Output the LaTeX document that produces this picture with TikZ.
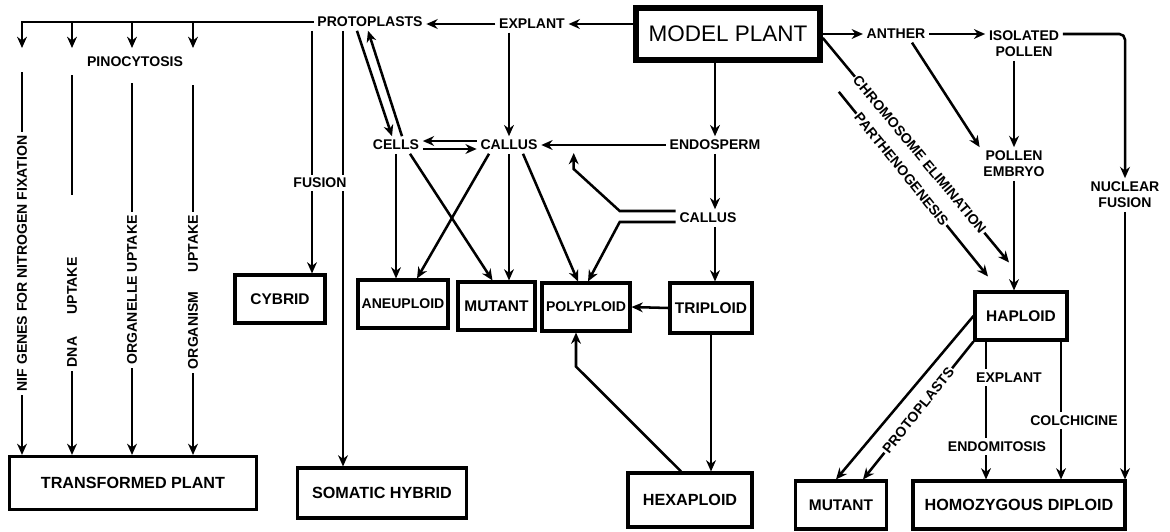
\documentclass[tikz,border=0pt]{standalone}
\usepackage{fontspec}
\setmainfont{Liberation Sans}
\usepackage{tikz}
\usetikzlibrary{arrows.meta, positioning, calc}

\begin{document}
\begin{tikzpicture}[
    font=\fontsize{10}{11.5}\selectfont\bfseries,
    pbox/.style={draw,line width=2.2pt,minimum width=#1,minimum height=1.2cm,
                 inner sep=2pt,align=center,font=\fontsize{11}{13}\selectfont\bfseries},
    bigbox/.style={pbox=#1,font=\fontsize{11.5}{13}\selectfont\bfseries},
    txt/.style={inner sep=2.5pt,align=center},
    lbl/.style={fill=white,inner sep=2.5pt,align=center},
    slbl/.style={fill=white,inner sep=1pt,sloped},
    arr/.style={-{Stealth[length=8pt,width=7pt]},line width=1.8pt},
    ln/.style={line width=1.8pt}
  ]
  \useasboundingbox (0,0) rectangle (29.25,-13.275);

  % top row
  \node[pbox=4.6cm,minimum height=1.3cm,line width=4pt,
        font=\fontsize{16}{18}\selectfont] (model) at (18.2,-0.85) {MODEL PLANT};
  \node[txt] (explant)  at (13.3,-0.6)  {EXPLANT};
  \node[txt] (proto)    at (9.25,-0.55) {PROTOPLASTS};
  \node[txt] (anther)   at (22.4,-0.85) {ANTHER};
  \node[txt] (isolated) at (25.6,-1.1)  {ISOLATED\\POLLEN};
  \draw[arr] (model.west |- explant) -- (explant.east);
  \draw[arr] (explant.west) -- (explant.west -| proto.east);
  \draw[arr] (model.east) -- (anther.west);
  \draw[arr] (anther.east) -- (anther.east -| isolated.west);

  % transformation columns
  \node[txt] (pino) at (3.375,-1.55) {PINOCYTOSIS};
  \node[bigbox=6.175cm,minimum height=1.325cm] (transf) at (3.325,-12.075) {TRANSFORMED PLANT};
  \coordinate (c1) at (0.55,-0.55);
  \coordinate (c2) at (1.8,-0.55);
  \coordinate (c3) at (3.3,-0.55);
  \coordinate (c4) at (4.825,-0.55);
  \coordinate (d1) at (0.55,-1.2);
  \coordinate (d2) at (1.8,-1.2);
  \coordinate (d3) at (3.3,-1.2);
  \coordinate (d4) at (4.825,-1.2);
  \coordinate (e1) at (0.55,-1.8);
  \coordinate (e2) at (1.8,-1.875);
  \coordinate (e3) at (3.3,-2.075);
  \coordinate (e4) at (4.825,-2.125);
  \draw[arr] (proto.west) -- (c1) -- (d1);
  \draw[arr] (c2) -- (d2);
  \draw[arr] (c3) -- (d3);
  \draw[arr] (c4) -- (d4);
  \draw[arr] (e1) -- node[lbl,rotate=90,pos=0.5] {NIF GENES FOR NITROGEN FIXATION} (e1 |- transf.north);
  \draw[arr] (e2) -- node[lbl,rotate=90,pos=0.547] {DNA\hspace{1.6em}UPTAKE\hspace{4.2em}} (e2 |- transf.north);
  \draw[arr] (e3) -- node[lbl,rotate=90,pos=0.556] {ORGANELLE UPTAKE} (e3 |- transf.north);
  \draw[arr] (e4) -- node[lbl,rotate=90,pos=0.56] {ORGANISM\hspace{1.4em}UPTAKE} (e4 |- transf.north);

  % fusion
  \node[pbox=2.25cm] (cybrid) at (7.0,-7.475) {CYBRID};
  \node[bigbox=4.225cm,minimum height=1.25cm] (somatic) at (9.55,-12.325) {SOMATIC HYBRID};
  \draw[arr] ([xshift=-1.45cm]proto.south) -- ([xshift=-1.45cm]proto.south |- cybrid.north);
  \draw[arr] ([xshift=-0.675cm]proto.south) -- ([xshift=-0.675cm]proto.south |- somatic.north);
  \node[lbl] (fusion) at (8.0,-4.575) {FUSION};

  % cells and callus
  \node[txt] (cells)   at (9.9,-3.625)   {CELLS};
  \node[txt] (callus)  at (12.725,-3.625) {CALLUS};
  \node[txt] (endo)    at (17.875,-3.625) {ENDOSPERM};
  \node[txt] (callusb) at (17.7,-5.45)    {CALLUS};
  \draw[arr] ([xshift=-0.325cm]proto.south) -- ([xshift=-0.1cm]cells.north);
  \draw[arr] ([xshift=0.15cm]cells.north) -- ([xshift=-0.05cm]proto.south);
  \draw[arr] ([yshift=0.1cm]callus.west) -- ([yshift=0.1cm]cells.east);
  \draw[arr] ([yshift=-0.1cm]cells.east) -- ([yshift=-0.1cm]callus.west);
  \draw[arr] (callus.north |- explant.south) -- (callus.north);
  \draw[arr] (endo.north |- model.south) -- (endo.north);
  \draw[arr] (endo.west) -- (callus.east);
  \draw[arr] (endo.south) -- (endo.south |- callusb.north);

  % ploidy boxes
  \node[pbox=2.25cm,font=\fontsize{10}{12}\selectfont\bfseries] (aneu) at (10.075,-7.6) {ANEUPLOID};
  \node[pbox=1.925cm] (mutant) at (12.4125,-7.65) {MUTANT};
  \node[pbox=2.2cm,font=\fontsize{10}{12}\selectfont\bfseries] (poly) at (14.65,-7.675) {POLYPLOID};
  \node[pbox=2.05cm,minimum height=1.25cm] (trip) at (17.775,-7.7) {TRIPLOID};
  \node[bigbox=3.1cm,minimum height=1.35cm] (hexa) at (17.25,-12.5) {HEXAPLOID};
  \draw[arr] (cells.south) -- (cells.south |- aneu.north);
  \draw[arr] ([xshift=0.35cm]cells.south) -- ([xshift=-0.1cm]mutant.north);
  \draw[arr] ([xshift=-0.5cm]callus.south) -- ([xshift=0.35cm]aneu.north);
  \draw[arr] (callus.south) -- (callus.south |- mutant.north);
  \draw[arr] ([xshift=0.35cm]callus.south) -- ([xshift=-0.2cm]poly.north);
  \draw[arr] ([yshift=0.175cm]callusb.west) -- ++(-1.4,0) -- ++(-1.15,1.05) -- ++(0,0.4);
  \draw[arr] ([yshift=-0.1cm]callusb.west) -- ++(-1.4,0) -- ([xshift=0.05cm]poly.north);
  \draw[arr] (endo.south |- callusb.south) -- (endo.south |- trip.north);
  \draw[arr] (trip.west) -- (poly.east);
  \draw[arr] (trip.south) -- (trip.south |- hexa.north);
  \draw[arr] ([xshift=-0.225cm]hexa.north) -- ([xshift=-0.25cm,yshift=-0.85cm]poly.south)
             -- ([xshift=-0.25cm]poly.south);

  % haploid branch
  \node[txt] (embryo)  at (25.35,-4.1)   {POLLEN\\EMBRYO};
  \node[txt] (nuclear) at (28.125,-4.875) {NUCLEAR\\FUSION};
  \node[pbox=2.3cm]   (haploid) at (25.525,-7.9)   {HAPLOID};
  \node[pbox=2.275cm] (mutantb) at (21.025,-12.625) {MUTANT};
  \node[bigbox=5.3cm] (homo)    at (25.475,-12.625) {HOMOZYGOUS DIPLOID};
  \draw[arr,rounded corners=4pt] (anther.east -| isolated.east) -| (nuclear.north);
  \draw[arr] ([xshift=0.4cm]anther.south) -- (embryo.north west);
  \draw[arr] (embryo.north |- isolated.south) -- (embryo.north);
  \draw[arr] (embryo.south) -- (embryo.south |- haploid.north);
  \draw[arr] (nuclear.south) -- (nuclear.south |- homo.north);
  \draw[arr] ([yshift=-0.1cm]model.east) -- node[slbl,pos=0.52] {CHROMOSOME ELIMINATION}
             ([xshift=-0.3cm,yshift=0.7cm]haploid.north);
  \coordinate (pstart) at ([xshift=0.4cm,yshift=-0.725cm]model.south east);
  \draw[arr] (pstart) -- node[slbl,pos=0.42] {PARTHENOGENESIS}
             ([xshift=-0.825cm,yshift=0.35cm]haploid.north);
  \draw[arr] (haploid.west) -- ([xshift=-0.125cm]mutantb.north);
  \draw[arr] (haploid.south west) -- node[slbl,pos=0.5] {PROTOPLASTS} ([xshift=0.55cm]mutantb.north);
  \draw[arr] ([xshift=-0.875cm]haploid.south) -- node[lbl,pos=0.26,xshift=0.575cm] {EXPLANT}
             node[lbl,pos=0.76,xshift=0.275cm] {ENDOMITOSIS} ([xshift=-0.875cm]haploid.south |- homo.north);
  \draw[arr] ([xshift=1cm]haploid.south) -- node[lbl,pos=0.57,xshift=0.325cm] {COLCHICINE}
             ([xshift=1cm]haploid.south |- homo.north);
\end{tikzpicture}
\end{document}
